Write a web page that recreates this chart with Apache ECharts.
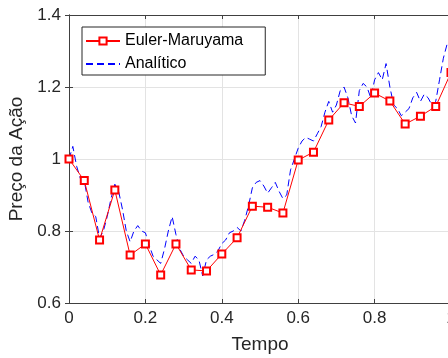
<!DOCTYPE html>
<html>
<head>
<meta charset="utf-8">
<script src="https://cdn.jsdelivr.net/npm/echarts@6/dist/echarts.min.js"></script>
<style>
html,body{margin:0;padding:0;background:#fff;}
#c{width:448px;height:358px;}
</style>
</head>
<body>
<div id="c"></div>
<script>
var tEM = [0,0.04,0.08,0.12,0.16,0.20,0.24,0.28,0.32,0.36,0.40,0.44,0.48,0.52,0.56,0.60,0.64,0.68,0.72,0.76,0.80,0.84,0.88,0.92,0.96,1.00];
var euler = [1.0,0.94,0.775,0.914,0.733,0.764,0.678,0.764,0.692,0.689,0.736,0.781,0.869,0.866,0.85,0.997,1.019,1.108,1.156,1.146,1.183,1.161,1.097,1.119,1.146,1.24];
var tAn = [0,0.01,0.02,0.03,0.04,0.05,0.06,0.07,0.08,0.09,0.10,0.11,0.12,0.13,0.14,0.15,0.16,0.17,0.18,0.19,
  0.20,0.21,0.22,0.23,0.24,0.25,0.26,0.27,0.28,0.29,0.30,0.31,0.32,0.33,0.34,0.35,0.36,0.37,0.38,0.39,
  0.40,0.41,0.42,0.43,0.44,0.45,0.46,0.47,0.48,0.49,0.50,0.51,0.52,0.53,0.54,0.55,0.56,0.57,0.58,0.59,
  0.60,0.61,0.62,0.63,0.64,0.65,0.66,0.67,0.68,0.69,0.70,0.71,0.72,0.73,0.74,0.75,0.76,0.77,0.78,0.79,
  0.80,0.81,0.82,0.83,0.84,0.85,0.86,0.87,0.88,0.89,0.90,0.91,0.92,0.93,0.94,0.95,0.96,0.97,0.98,0.99,1.00];
var analitico = [1.00,1.035,0.98,0.945,0.94,0.88,0.85,0.84,0.78,0.80,0.84,0.89,0.93,0.91,0.86,0.80,0.77,0.80,0.815,0.80,
  0.795,0.76,0.73,0.72,0.71,0.75,0.80,0.84,0.79,0.75,0.73,0.72,0.71,0.73,0.72,0.675,0.72,0.73,0.735,0.745,
  0.765,0.775,0.795,0.80,0.81,0.80,0.83,0.87,0.92,0.935,0.94,0.925,0.905,0.92,0.935,0.91,0.89,0.90,0.97,1.00,
  1.03,1.05,1.06,1.055,1.05,1.07,1.09,1.13,1.16,1.13,1.15,1.19,1.20,1.17,1.12,1.10,1.19,1.21,1.20,1.17,
  1.22,1.24,1.22,1.265,1.20,1.15,1.14,1.12,1.13,1.14,1.17,1.185,1.16,1.18,1.17,1.15,1.16,1.22,1.28,1.32,1.30];
var xTicks = ['0','0.2','0.4','0.6','0.8','1'];
var yTicks = ['0.6','0.8','1','1.2','1.4'];
var names = ['Euler-Maruyama','Analítico'];

function pairs(xs, ys){ return xs.map(function(x,i){ return [x, ys[i]]; }); }
var font = 'Liberation Sans, Arial, Helvetica, sans-serif';
var axCol = '#404040';
var chart = echarts.init(document.getElementById('c'), null, {renderer:'canvas'});
chart.setOption({
  backgroundColor:'#fff',
  animation:false,
  textStyle:{fontFamily:font},
  grid:{left:69, top:15, width:382, height:288, containLabel:false, outerBoundsMode:'none'},
  legend:{
    left:82, top:27, orient:'vertical',
    data:[{name:names[0]},{name:names[1], itemStyle:{color:'rgba(0,0,0,0)', borderColor:'rgba(0,0,0,0)'}}],
    itemWidth:34, itemHeight:9, itemGap:7,
    padding:[6,22,3,3],
    borderColor:'#262626', borderWidth:1, backgroundColor:'#fff',
    textStyle:{fontSize:16, color:'#000', fontFamily:font, lineHeight:14}
  },
  xAxis:[{
    type:'value', min:0, max:1, interval:0.2, position:'bottom',
    name:'Tempo', nameLocation:'middle', nameGap:32,
    nameTextStyle:{fontSize:19, color:'#262626', fontFamily:font},
    axisLine:{show:true, lineStyle:{color:axCol, width:1}},
    axisTick:{show:true, inside:true, length:4, lineStyle:{color:axCol}},
    axisLabel:{fontSize:17, color:'#262626', margin:7, fontFamily:font,
      formatter:function(v){ var i=Math.round(v/0.2); return xTicks[i]; }},
    splitLine:{show:true, lineStyle:{color:'#e3e3e3', width:1}}
  },{
    type:'value', min:0, max:1, interval:0.2, position:'top',
    axisLine:{show:true, lineStyle:{color:axCol, width:1}},
    axisTick:{show:true, inside:true, length:4, lineStyle:{color:axCol}},
    axisLabel:{show:false}, splitLine:{show:false}
  }],
  yAxis:[{
    type:'value', min:0.6, max:1.4, interval:0.2, position:'left',
    name:'Preço da Ação', nameLocation:'middle', nameGap:39, nameRotate:90,
    nameTextStyle:{fontSize:19, color:'#262626', fontFamily:font},
    axisLine:{show:true, lineStyle:{color:axCol, width:1}},
    axisTick:{show:true, inside:true, length:4, lineStyle:{color:axCol}},
    axisLabel:{fontSize:17, color:'#262626', margin:8, fontFamily:font,
      formatter:function(v){ var i=Math.round((v-0.6)/0.2); return yTicks[i]; }},
    splitLine:{show:true, lineStyle:{color:'#e3e3e3', width:1}}
  },{
    type:'value', min:0.6, max:1.4, interval:0.2, position:'right',
    axisLine:{show:true, lineStyle:{color:axCol, width:1}},
    axisTick:{show:true, inside:true, length:4, lineStyle:{color:axCol}},
    axisLabel:{show:false}, splitLine:{show:false}
  }],
  series:[{
    name:names[0], type:'line', xAxisIndex:0, yAxisIndex:0,
    data:pairs(tEM, euler),
    symbol:'emptyRect', symbolSize:7, showAllSymbol:true,
    lineStyle:{color:'#ff0000', width:1},
    itemStyle:{color:'#ff0000', borderColor:'#ff0000', borderWidth:1},
    z:3
  },{
    name:names[1], type:'line', xAxisIndex:0, yAxisIndex:0,
    data:pairs(tAn, analitico),
    symbol:'none',
    lineStyle:{color:'#0000ff', width:1, type:[7,4]},
    itemStyle:{color:'#0000ff'},
    z:2
  }]
});
</script>
</body>
</html>
